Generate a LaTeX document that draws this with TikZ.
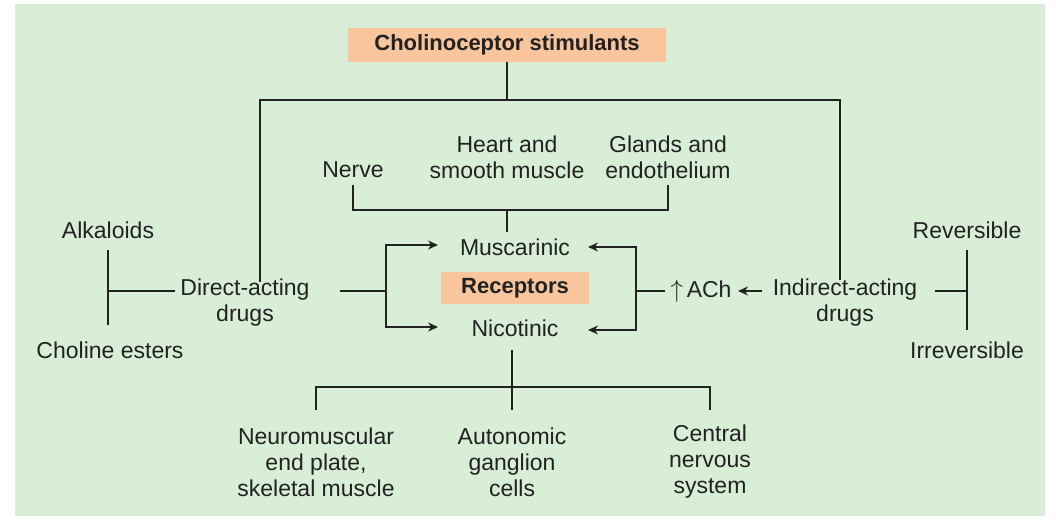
\documentclass[tikz,border=0pt]{standalone}
\usepackage{fontspec}
\setmainfont{Liberation Sans}
\usetikzlibrary{arrows.meta}
\definecolor{bg}{HTML}{D8EED6}
\definecolor{box}{HTML}{F8C59C}
\definecolor{ink}{HTML}{222222}
\begin{document}
\begin{tikzpicture}[x=1pt,y=-1pt,
  t/.style={text=ink,font=\fontsize{23}{26}\selectfont,align=center,inner sep=1pt},
  b/.style={t,fill=box,font=\bfseries\fontsize{22}{26}\selectfont,minimum height=34},
  ln/.style={draw=ink,line width=1.3pt},
  ar/.style={ln,-{Stealth[length=10pt,width=9pt]}}]
\useasboundingbox (0,0) rectangle (1056,522);
\fill[bg] (15,4) rectangle (1045,516);
\node[b,minimum width=318] (title) at (507,45) {Cholinoceptor stimulants};
\node[b,minimum width=148,minimum height=32] (rec) at (515,288) {Receptors};
\node[t] (nerve) at (353,170) {Nerve};
\node[t] (heart) at (507,157) {Heart and\\smooth muscle};
\node[t] (glands) at (668,157) {Glands and\\endothelium};
\node[t] (mus) at (515,247) {Muscarinic};
\node[t] (nic) at (515,328) {Nicotinic};
\node[t] (direct) at (245,303) {Direct-acting\\drugs};
\node[t] (indirect) at (845,303) {Indirect-acting\\drugs};
\node[t] (ach) at (701,291) {$\uparrow$\,ACh};
\node[t] (alk) at (108,230) {Alkaloids};
\node[t] (chol) at (110,350) {Choline esters};
\node[t] (rev) at (967,230) {Reversible};
\node[t] (irr) at (967,350) {Irreversible};
\node[t] (nm) at (316,462) {Neuromuscular\\end plate,\\skeletal muscle};
\node[t] (aut) at (512,462) {Autonomic\\ganglion\\cells};
\node[t] (cns) at (710,462) {Central\\nervous\\system};
% top tree
\draw[ln] (title.south) -- (507,100);
\draw[ln] (260,282) |- (840,100) -- (840,280);
% upper bracket
\draw[ln] (353,185) |- (668,210) -- (668,185);
\draw[ln] (507,210) -- (507,232);
% left arrows
\draw[ln] (340,291) -- (386,291);
\draw[ar] (386,291) |- (438,245);
\draw[ar] (386,291) |- (438,327);
% right arrows
\draw[ar] (636,291) |- (588,247);
\draw[ar] (636,291) |- (588,330);
\draw[ln] (636,291) -- (665,291);
\draw[ar] (762,291) -- (738,291);
% left side
\draw[ln] (108,250) -- (108,325);
\draw[ln] (108,291) -- (175,291);
% right side
\draw[ln] (967,250) -- (967,330);
\draw[ln] (935,291) -- (967,291);
% bottom
\draw[ln] (512,350) -- (512,387);
\draw[ln] (316,410) |- (710,387) -- (710,410);
\draw[ln] (512,387) -- (512,410);
\end{tikzpicture}
\end{document}
